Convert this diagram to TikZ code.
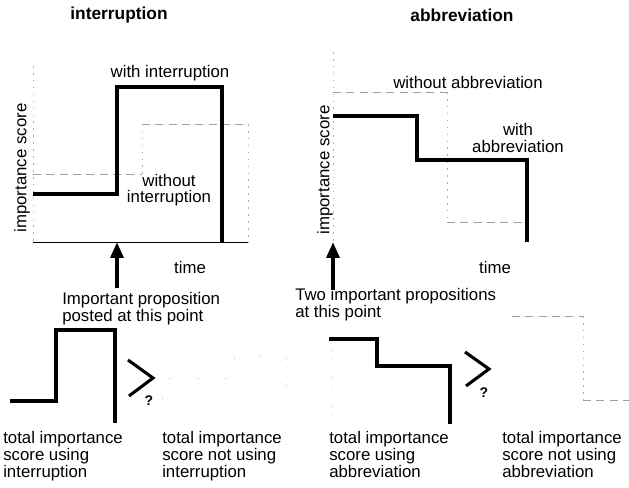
\documentclass[tikz,border=0pt]{standalone}
\usepackage{fontspec}
\setmainfont{Liberation Sans}
\usetikzlibrary{arrows.meta}
\begin{document}
\begin{tikzpicture}[x=0.75pt,y=-0.75pt,
  txt/.style={inner sep=0pt,font=\fontsize{12.6pt}{12.8pt}\selectfont},
  ttl/.style={inner sep=0pt,font=\fontsize{13pt}{14pt}\selectfont\bfseries},
  qm/.style={inner sep=0pt,font=\fontsize{10.5pt}{11pt}\selectfont\bfseries},
  steps/.style={line width=2.3pt,line join=miter},
  dsh/.style={gray!75,line width=0.5pt,dash pattern=on 6pt off 4pt},
  dts/.style={gray!65,line width=0.5pt,dash pattern=on 1.2pt off 4pt},
  faint/.style={gray!30,line width=0.5pt,dash pattern=on 1pt off 6pt},
  uparrow/.style={line width=3pt,-{Triangle[length=12pt,width=9.5pt]}},
  gtsym/.style={line width=2.3pt,line join=miter}]
\useasboundingbox (0,0) rectangle (629,488);

% titles
\node[ttl] (t1) at (119,15) {interruption};
\node[ttl] (t2) at (462,15) {abbreviation};

% ---------- left plot ----------
\coordinate (ly0) at (33,242);
\coordinate (lytop) at (33,66);
\coordinate (lx1) at (248,242);
\draw[dts] (lytop) -- (ly0);
\draw[line width=0.6pt] (ly0) -- (lx1);
% without interruption (dashed)
\draw[dsh] (33,174) -- (142,174);
\draw[dts] (142,174) -- (142,124);
\draw[dsh] (142,124) -- (248,124);
\draw[dts] (248,124) -- (248,242);
% with interruption (thick)
\draw[steps] (33,194) -- (117,194) -- (117,87) -- (222,87) -- (222,242);
\node[txt] (wi) at (170,73) {with interruption};
\node[txt,align=center,font=\fontsize{12.6pt}{11.6pt}\selectfont] (woi) at (169,190) {without\\interruption};
\node[txt,rotate=90] (ys1) at (22,168) {importance score};
\node[txt] (time1) at (190,267) {time};
\coordinate (a1s) at (117,288);
\coordinate (a1e) at (117,242);
\draw[uparrow] (a1s) -- (a1e);
\node[txt,align=left,anchor=north west] (ip) at (62,292) {Important proposition\\posted at this point};

% ---------- right plot ----------
\coordinate (ry0) at (333,242);
\coordinate (rytop) at (333,52);
\draw[dts] (rytop) -- (ry0);
% without abbreviation (dashed)
\draw[dsh] (333,92) -- (447,92);
\draw[dts] (447,92) -- (447,222);
\draw[dsh] (447,222) -- (524,222);
% with abbreviation (thick)
\draw[steps] (333,116) -- (417,116) -- (417,160) -- (527,160) -- (527,242);
\node[txt] (woa) at (468,82) {without abbreviation};
\node[txt,align=center] (wa) at (518,138) {with\\abbreviation};
\node[txt,rotate=90] (ys2) at (325,170) {importance score};
\node[txt] (time2) at (495,267) {time};
\coordinate (a2s) at (333,290);
\coordinate (a2e) at (333,242);
\draw[uparrow] (a2s) -- (a2e);
\node[txt,align=left,anchor=north west] (tp) at (295,288) {Two important propositions\\at this point};

% ---------- bottom left ----------
\draw[steps] (10,401) -- (56,401) -- (56,330) -- (115,330) -- (115,423);
\draw[gtsym] (128,360) -- (153,378) -- (129,396);
\node[qm] (q1) at (149,401) {?};
\draw[faint] (162,408) -- (162,378) -- (234,378) -- (234,356) -- (286,356) -- (286,412);
\node[txt,align=left,anchor=north west] (b1) at (3,431) {total importance\\score using\\interruption};
\node[txt,align=left,anchor=north west] (b2) at (162,431) {total importance\\score not using\\interruption};

% ---------- bottom right ----------
\draw[faint] (331,340) -- (331,420);
\draw[steps] (329,339) -- (377,339) -- (377,366) -- (450,366) -- (450,424);
\draw[gtsym] (465,352) -- (489,369) -- (466,386);
\node[qm] (q2) at (484,393) {?};
\draw[dsh] (512,316) -- (583,316);
\draw[dts] (583,316) -- (583,400);
\draw[dsh] (583,400) -- (629,400);
\node[txt,align=left,anchor=north west] (b3) at (329,431) {total importance\\score using\\abbreviation};
\node[txt,align=left,anchor=north west] (b4) at (502,431) {total importance\\score not using\\abbreviation};
\end{tikzpicture}
\end{document}
